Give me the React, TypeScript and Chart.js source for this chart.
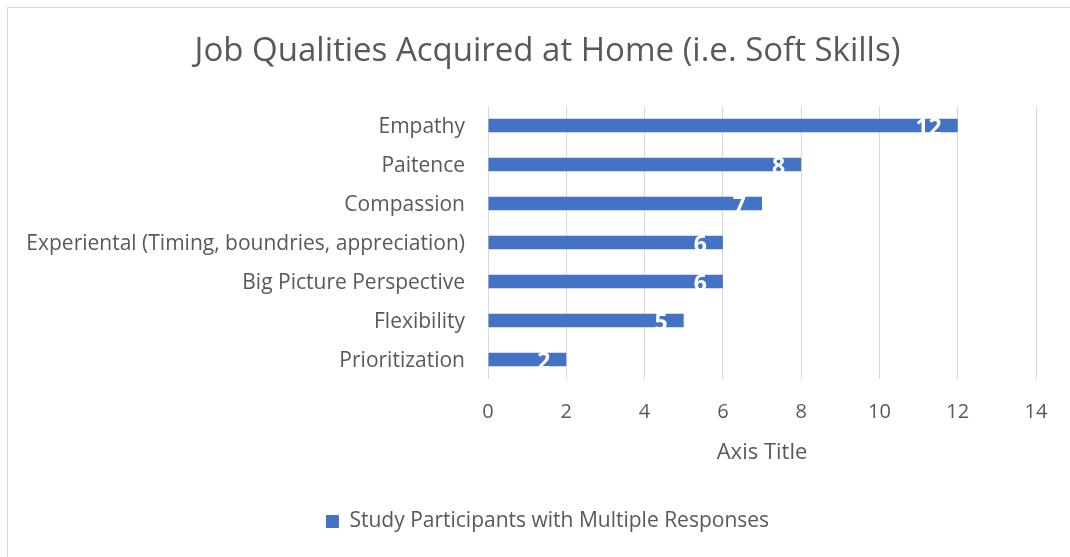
import React, { useEffect, useRef } from 'react';
import { Chart, registerables } from 'chart.js';

Chart.register(...registerables);

const categories = [
  'Empathy',
  'Paitence',
  'Compassion',
  'Experiental (Timing, boundries, appreciation)',
  'Big Picture Perspective',
  'Flexibility',
  'Prioritization',
];
const values = [12, 8, 7, 6, 6, 5, 2];
const seriesLabel = 'Study Participants with Multiple Responses';
const titleText = 'Job Qualities Acquired at Home (i.e. Soft Skills)';
const xAxisTitle = 'Axis Title';
const xMin = 0;
const xMax = 14;
const xStep = 2;

const FONT = '"Open Sans", Lato, sans-serif';
const TEXT = '#595959';
const BAR = '#4472C4';
const GRID = '#d9d9d9';

const framePlugin = {
  id: 'frame',
  beforeDraw(chart: any) {
    const ctx = chart.ctx;
    ctx.save();
    ctx.fillStyle = '#ffffff';
    ctx.fillRect(0, 0, chart.width, chart.height);
    ctx.strokeStyle = GRID;
    ctx.lineWidth = 1;
    ctx.strokeRect(7.5, 7.5, chart.width + 20, chart.height + 20);
    ctx.restore();
  },
  afterLayout(chart: any) {
    // let long category labels extend past the left layout padding
    if (chart.scales.y) chart.scales.y.left = 0;
  },
};

const labelPlugin = {
  id: 'barLabels',
  afterDatasetsDraw(chart: any) {
    const ctx = chart.ctx;
    const meta = chart.getDatasetMeta(0);
    ctx.save();
    ctx.fillStyle = '#ffffff';
    ctx.font = `bold 23px ${FONT}`;
    ctx.textAlign = 'right';
    ctx.textBaseline = 'middle';
    meta.data.forEach((el: any, i: number) => {
      ctx.fillText(String(values[i]), el.x - 16, el.y + 3);
    });
    ctx.restore();
  },
};

export default function App() {
  const ref = useRef<HTMLCanvasElement>(null);
  useEffect(() => {
    const canvas = ref.current;
    if (!canvas) return;
    const chart = new Chart(canvas, {
      type: 'bar',
      data: {
        labels: categories,
        datasets: [
          {
            label: seriesLabel,
            data: values,
            backgroundColor: BAR,
            borderWidth: 0,
            barPercentage: 0.34,
            categoryPercentage: 1,
          },
        ],
      },
      options: {
        indexAxis: 'y',
        responsive: false,
        animation: false,
        layout: { padding: { left: 59, right: 34, top: 0, bottom: 15 } },
        plugins: {
          title: {
            display: true,
            text: titleText,
            color: TEXT,
            font: { family: FONT, size: 33, weight: 'normal' },
            padding: { top: 32, bottom: 34.4 },
          },
          legend: {
            display: true,
            position: 'bottom',
            labels: {
              color: TEXT,
              font: { family: FONT, size: 21 },
              boxWidth: 13,
              boxHeight: 13,
              padding: 9,
            },
          },
          tooltip: { enabled: false },
        },
        scales: {
          x: {
            min: xMin,
            max: xMax,
            ticks: {
              stepSize: xStep,
              color: TEXT,
              font: { family: FONT, size: 20 },
              padding: 21,
            },
            grid: { color: GRID, lineWidth: 1, drawTicks: false },
            border: { display: false },
            title: {
              display: true,
              text: xAxisTitle,
              color: TEXT,
              font: { family: FONT, size: 22 },
              padding: { top: 0, bottom: 36 },
            },
            afterFit(scale: any) {
              scale.height = 123;
            },
          },
          y: {
            ticks: {
              color: TEXT,
              font: { family: FONT, size: 21 },
              padding: 23,
              labelOffset: 2,
            },
            grid: { display: false, drawTicks: false },
            border: { display: false },
            afterFit(scale: any) {
              scale.width = 429;
            },
          },
        },
      },
      plugins: [framePlugin, labelPlugin],
    });
    return () => chart.destroy();
  }, []);

  return (
    <div style={{ position: 'fixed', left: 0, top: 0, width: 1070, height: 557 }}>
      <canvas ref={ref} width={1070} height={557} style={{ width: 1070, height: 557, display: 'block' }} />
    </div>
  );
}
